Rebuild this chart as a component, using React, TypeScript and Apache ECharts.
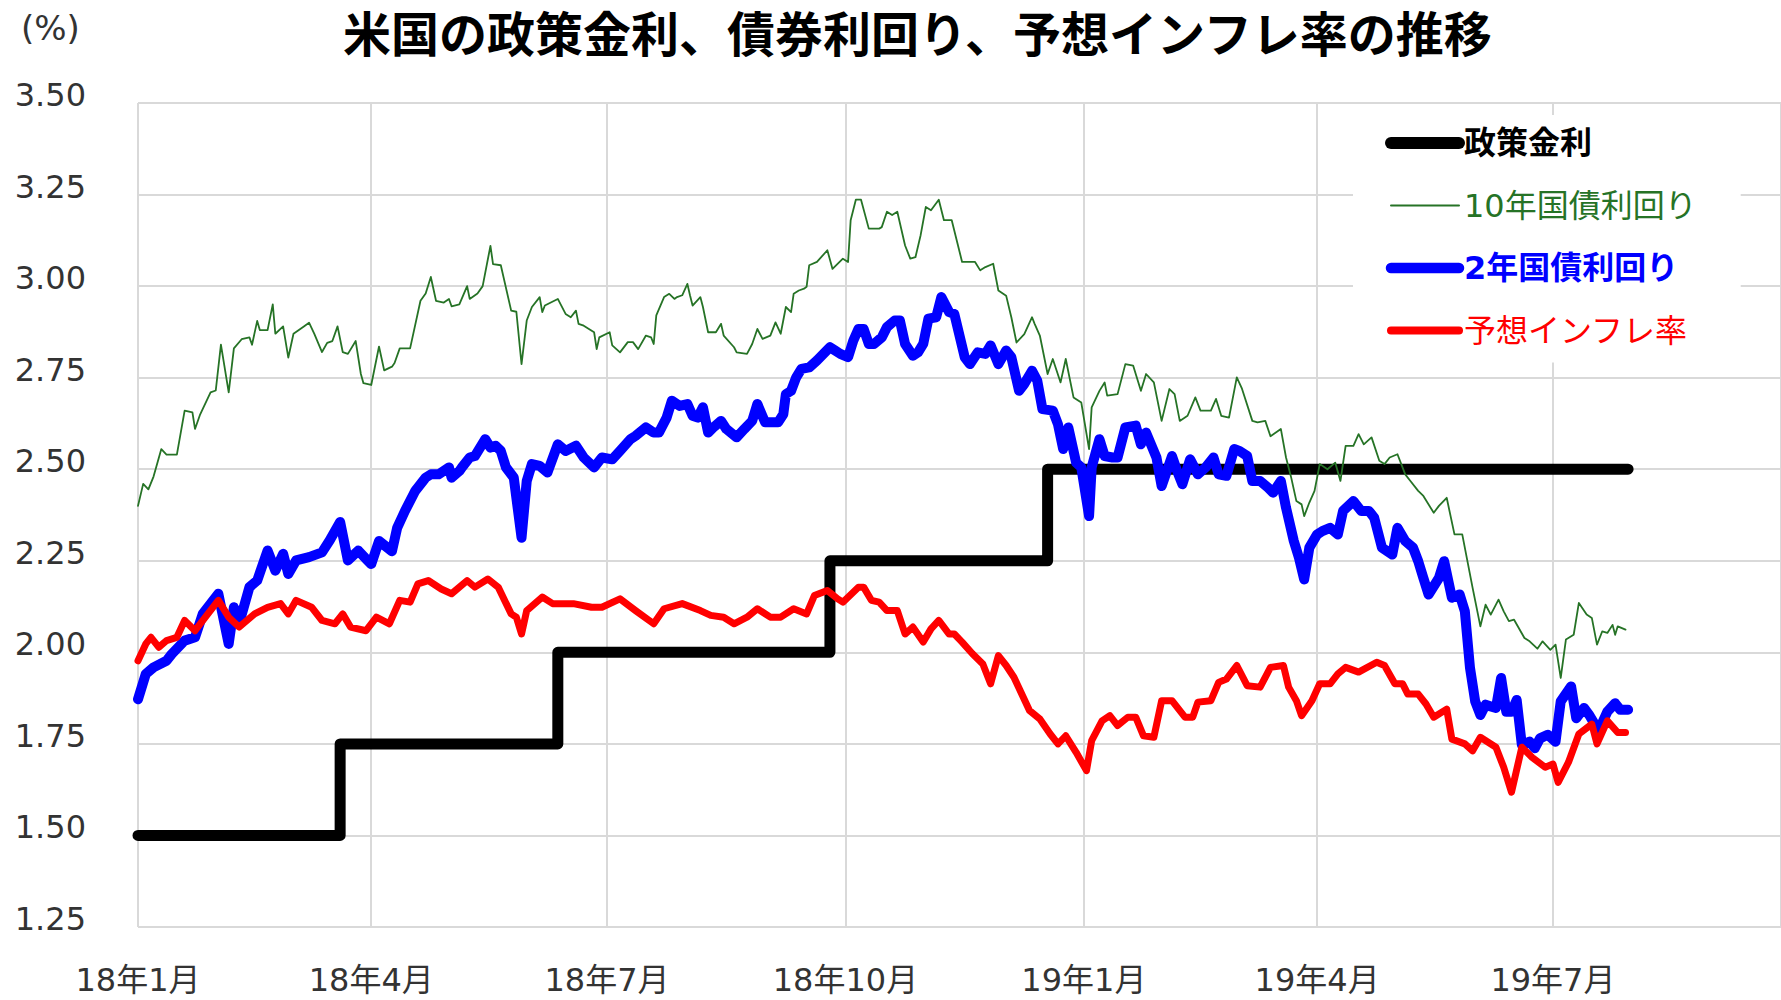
import React, { useEffect, useRef } from 'react';
import * as echarts from 'echarts';

const FONT = '"DejaVu Sans", "Noto Sans CJK JP", sans-serif';
const TITLE = '米国の政策金利、債券利回り、予想インフレ率の推移';
const UNIT_LABEL = '(%)';
const SERIES_NAMES = ['政策金利', '10年国債利回り', '2年国債利回り', '予想インフレ率'];
const COLORS = ['#000000', '#267326', '#0000ff', '#ff0000'];
const X_MIN = '2018-01-01';
const X_MAX = '2019-09-27';
const Y_MIN = 1.25;
const Y_MAX = 3.5;
const Y_STEP = 0.25;

const policyRate: [string, number][] = [
  ['2018-01-01', 1.5], ['2018-03-20', 1.5], ['2018-03-20', 1.75], ['2018-06-12', 1.75], ['2018-06-12', 2.0],
  ['2018-09-25', 2.0], ['2018-09-25', 2.25], ['2018-12-18', 2.25], ['2018-12-18', 2.5], ['2019-07-30', 2.5],
];

const tenYear: [string, number][] = [
  ['2018-01-01', 2.40], ['2018-01-03', 2.46], ['2018-01-05', 2.445], ['2018-01-07', 2.48], ['2018-01-10', 2.555],
  ['2018-01-12', 2.54], ['2018-01-16', 2.54], ['2018-01-19', 2.66], ['2018-01-22', 2.655], ['2018-01-23', 2.61],
  ['2018-01-25', 2.65], ['2018-01-29', 2.71], ['2018-01-31', 2.715], ['2018-02-02', 2.84], ['2018-02-05', 2.71],
  ['2018-02-07', 2.83], ['2018-02-10', 2.855], ['2018-02-13', 2.86], ['2018-02-14', 2.84], ['2018-02-16', 2.905],
  ['2018-02-17', 2.88], ['2018-02-20', 2.88], ['2018-02-22', 2.95], ['2018-02-23', 2.87], ['2018-02-26', 2.89],
  ['2018-02-28', 2.805], ['2018-03-02', 2.87], ['2018-03-06', 2.89], ['2018-03-08', 2.90], ['2018-03-10', 2.87],
  ['2018-03-13', 2.82], ['2018-03-15', 2.845], ['2018-03-17', 2.85], ['2018-03-19', 2.89], ['2018-03-21', 2.82],
  ['2018-03-23', 2.815], ['2018-03-26', 2.85], ['2018-03-28', 2.76], ['2018-03-29', 2.735], ['2018-04-01', 2.73],
  ['2018-04-04', 2.835], ['2018-04-06', 2.77], ['2018-04-09', 2.78], ['2018-04-10', 2.79], ['2018-04-12', 2.83],
  ['2018-04-16', 2.83], ['2018-04-20', 2.96], ['2018-04-22', 2.98], ['2018-04-24', 3.025], ['2018-04-26', 2.96],
  ['2018-04-29', 2.955], ['2018-05-01', 2.965], ['2018-05-02', 2.945], ['2018-05-05', 2.95], ['2018-05-08', 3.00],
  ['2018-05-09', 2.965], ['2018-05-12', 2.98], ['2018-05-14', 3.00], ['2018-05-17', 3.11], ['2018-05-18', 3.06],
  ['2018-05-21', 3.057], ['2018-05-25', 2.933], ['2018-05-27', 2.93], ['2018-05-29', 2.787], ['2018-05-31', 2.906],
  ['2018-06-02', 2.943], ['2018-06-05', 2.97], ['2018-06-06', 2.929], ['2018-06-07', 2.947], ['2018-06-12', 2.965],
  ['2018-06-15', 2.924], ['2018-06-17', 2.915], ['2018-06-19', 2.933], ['2018-06-20', 2.897], ['2018-06-22', 2.892],
  ['2018-06-26', 2.874], ['2018-06-27', 2.828], ['2018-06-28', 2.86], ['2018-07-02', 2.874], ['2018-07-03', 2.838],
  ['2018-07-06', 2.819], ['2018-07-09', 2.847], ['2018-07-11', 2.847], ['2018-07-13', 2.828], ['2018-07-16', 2.865],
  ['2018-07-18', 2.86], ['2018-07-19', 2.842], ['2018-07-20', 2.92], ['2018-07-23', 2.97], ['2018-07-25', 2.979],
  ['2018-07-27', 2.965], ['2018-07-28', 2.97], ['2018-07-30', 2.975], ['2018-08-01', 3.006], ['2018-08-02', 2.975],
  ['2018-08-03', 2.947], ['2018-08-06', 2.97], ['2018-08-07', 2.943], ['2018-08-09', 2.874], ['2018-08-12', 2.874],
  ['2018-08-14', 2.897], ['2018-08-15', 2.865], ['2018-08-19', 2.833], ['2018-08-20', 2.819], ['2018-08-24', 2.815],
  ['2018-08-26', 2.842], ['2018-08-28', 2.883], ['2018-08-30', 2.856], ['2018-09-02', 2.865], ['2018-09-04', 2.901],
  ['2018-09-06', 2.87], ['2018-09-08', 2.943], ['2018-09-10', 2.929], ['2018-09-11', 2.979], ['2018-09-13', 2.988],
  ['2018-09-15', 2.993], ['2018-09-16', 2.998], ['2018-09-17', 3.057], ['2018-09-20', 3.066], ['2018-09-24', 3.098],
  ['2018-09-26', 3.047], ['2018-09-30', 3.075], ['2018-10-02', 3.066], ['2018-10-03', 3.18], ['2018-10-05', 3.236],
  ['2018-10-07', 3.236], ['2018-10-10', 3.157], ['2018-10-14', 3.157], ['2018-10-15', 3.161], ['2018-10-17', 3.203],
  ['2018-10-19', 3.194], ['2018-10-21', 3.203], ['2018-10-24', 3.111], ['2018-10-26', 3.075], ['2018-10-28', 3.079],
  ['2018-10-30', 3.139], ['2018-11-01', 3.216], ['2018-11-03', 3.207], ['2018-11-06', 3.236], ['2018-11-08', 3.18],
  ['2018-11-11', 3.18], ['2018-11-15', 3.066], ['2018-11-20', 3.066], ['2018-11-22', 3.043], ['2018-11-24', 3.052],
  ['2018-11-27', 3.061], ['2018-11-29', 2.988], ['2018-12-02', 2.974], ['2018-12-04', 2.915], ['2018-12-06', 2.846],
  ['2018-12-09', 2.869], ['2018-12-12', 2.915], ['2018-12-13', 2.897], ['2018-12-15', 2.865], ['2018-12-18', 2.76],
  ['2018-12-20', 2.801], ['2018-12-23', 2.737], ['2018-12-25', 2.801], ['2018-12-28', 2.696], ['2018-12-31', 2.682],
  ['2019-01-03', 2.555], ['2019-01-04', 2.669], ['2019-01-07', 2.714], ['2019-01-09', 2.737], ['2019-01-10', 2.701],
  ['2019-01-14', 2.705], ['2019-01-17', 2.787], ['2019-01-20', 2.783], ['2019-01-23', 2.714], ['2019-01-25', 2.76],
  ['2019-01-28', 2.737], ['2019-01-31', 2.632], ['2019-02-03', 2.719], ['2019-02-05', 2.705], ['2019-02-07', 2.632],
  ['2019-02-10', 2.646], ['2019-02-13', 2.696], ['2019-02-15', 2.66], ['2019-02-19', 2.66], ['2019-02-21', 2.692],
  ['2019-02-23', 2.646], ['2019-02-26', 2.641], ['2019-03-01', 2.751], ['2019-03-03', 2.72], ['2019-03-07', 2.632],
  ['2019-03-09', 2.628], ['2019-03-12', 2.632], ['2019-03-14', 2.59], ['2019-03-18', 2.61], ['2019-03-20', 2.532],
  ['2019-03-22', 2.477], ['2019-03-24', 2.413], ['2019-03-26', 2.404], ['2019-03-27', 2.372], ['2019-03-29', 2.409],
  ['2019-03-31', 2.441], ['2019-04-02', 2.514], ['2019-04-05', 2.50], ['2019-04-08', 2.518], ['2019-04-10', 2.468],
  ['2019-04-12', 2.564], ['2019-04-15', 2.564], ['2019-04-17', 2.596], ['2019-04-19', 2.568], ['2019-04-22', 2.587],
  ['2019-04-25', 2.523], ['2019-04-27', 2.514], ['2019-04-29', 2.532], ['2019-05-02', 2.541], ['2019-05-05', 2.486],
  ['2019-05-07', 2.468], ['2019-05-10', 2.441], ['2019-05-12', 2.427], ['2019-05-16', 2.381], ['2019-05-18', 2.40],
  ['2019-05-21', 2.422], ['2019-05-24', 2.322], ['2019-05-27', 2.322], ['2019-05-31', 2.176], ['2019-06-03', 2.071],
  ['2019-06-05', 2.13], ['2019-06-07', 2.103], ['2019-06-10', 2.144], ['2019-06-12', 2.112], ['2019-06-14', 2.085],
  ['2019-06-16', 2.089], ['2019-06-20', 2.039], ['2019-06-22', 2.03], ['2019-06-25', 2.01], ['2019-06-27', 2.03],
  ['2019-06-30', 2.007], ['2019-07-02', 2.021], ['2019-07-04', 1.93], ['2019-07-06', 2.035], ['2019-07-09', 2.048],
  ['2019-07-11', 2.135], ['2019-07-14', 2.103], ['2019-07-16', 2.094], ['2019-07-18', 2.021], ['2019-07-20', 2.057],
  ['2019-07-22', 2.053], ['2019-07-24', 2.075], ['2019-07-25', 2.048], ['2019-07-26', 2.071], ['2019-07-29', 2.062],
];

const twoYear: [string, number][] = [
  ['2018-01-01', 1.872], ['2018-01-04', 1.941], ['2018-01-07', 1.959], ['2018-01-12', 1.977], ['2018-01-14', 1.995],
  ['2018-01-19', 2.032], ['2018-01-23', 2.041], ['2018-01-26', 2.105], ['2018-02-01', 2.16], ['2018-02-05', 2.023],
  ['2018-02-07', 2.123], ['2018-02-09', 2.078], ['2018-02-13', 2.178], ['2018-02-16', 2.196], ['2018-02-20', 2.278],
  ['2018-02-23', 2.223], ['2018-02-26', 2.269], ['2018-02-28', 2.214], ['2018-03-03', 2.251], ['2018-03-08', 2.26],
  ['2018-03-13', 2.273], ['2018-03-16', 2.306], ['2018-03-20', 2.356], ['2018-03-23', 2.251], ['2018-03-27', 2.278],
  ['2018-03-30', 2.255], ['2018-04-01', 2.241], ['2018-04-04', 2.304], ['2018-04-09', 2.276], ['2018-04-11', 2.34],
  ['2018-04-14', 2.386], ['2018-04-18', 2.441], ['2018-04-22', 2.477], ['2018-04-24', 2.486], ['2018-04-27', 2.486],
  ['2018-05-01', 2.505], ['2018-05-02', 2.477], ['2018-05-05', 2.495], ['2018-05-06', 2.505], ['2018-05-09', 2.532],
  ['2018-05-11', 2.536], ['2018-05-15', 2.582], ['2018-05-17', 2.559], ['2018-05-19', 2.564], ['2018-05-21', 2.55],
  ['2018-05-23', 2.505], ['2018-05-26', 2.477], ['2018-05-29', 2.313], ['2018-05-31', 2.468], ['2018-06-02', 2.514],
  ['2018-06-05', 2.509], ['2018-06-08', 2.491], ['2018-06-12', 2.568], ['2018-06-15', 2.55], ['2018-06-19', 2.564],
  ['2018-06-22', 2.532], ['2018-06-26', 2.505], ['2018-06-29', 2.532], ['2018-07-03', 2.527], ['2018-07-06', 2.55],
  ['2018-07-10', 2.582], ['2018-07-12', 2.591], ['2018-07-16', 2.614], ['2018-07-19', 2.60], ['2018-07-21', 2.60],
  ['2018-07-24', 2.641], ['2018-07-26', 2.687], ['2018-07-29', 2.673], ['2018-08-01', 2.678], ['2018-08-03', 2.646],
  ['2018-08-05', 2.641], ['2018-08-07', 2.669], ['2018-08-09', 2.60], ['2018-08-11', 2.614], ['2018-08-14', 2.632],
  ['2018-08-16', 2.61], ['2018-08-20', 2.587], ['2018-08-23', 2.61], ['2018-08-26', 2.632], ['2018-08-28', 2.678],
  ['2018-08-31', 2.628], ['2018-09-05', 2.628], ['2018-09-07', 2.65], ['2018-09-08', 2.705], ['2018-09-10', 2.714],
  ['2018-09-12', 2.751], ['2018-09-14', 2.774], ['2018-09-17', 2.778], ['2018-09-20', 2.797], ['2018-09-25', 2.833],
  ['2018-09-27', 2.824], ['2018-09-29', 2.815], ['2018-10-02', 2.806], ['2018-10-04', 2.851], ['2018-10-06', 2.883],
  ['2018-10-08', 2.883], ['2018-10-10', 2.842], ['2018-10-12', 2.842], ['2018-10-15', 2.86], ['2018-10-17', 2.888],
  ['2018-10-20', 2.906], ['2018-10-22', 2.906], ['2018-10-24', 2.842], ['2018-10-27', 2.81], ['2018-10-29', 2.819],
  ['2018-10-31', 2.842], ['2018-11-02', 2.911], ['2018-11-05', 2.915], ['2018-11-07', 2.97], ['2018-11-10', 2.929],
  ['2018-11-12', 2.924], ['2018-11-16', 2.806], ['2018-11-18', 2.787], ['2018-11-21', 2.819], ['2018-11-24', 2.815],
  ['2018-11-26', 2.838], ['2018-11-29', 2.787], ['2018-12-02', 2.824], ['2018-12-04', 2.806], ['2018-12-07', 2.714],
  ['2018-12-09', 2.733], ['2018-12-12', 2.769], ['2018-12-14', 2.742], ['2018-12-16', 2.664], ['2018-12-20', 2.66],
  ['2018-12-22', 2.623], ['2018-12-24', 2.555], ['2018-12-26', 2.614], ['2018-12-29', 2.518], ['2018-12-31', 2.505],
  ['2019-01-03', 2.372], ['2019-01-04', 2.505], ['2019-01-07', 2.582], ['2019-01-09', 2.536], ['2019-01-12', 2.532],
  ['2019-01-14', 2.532], ['2019-01-17', 2.614], ['2019-01-21', 2.619], ['2019-01-23', 2.568], ['2019-01-25', 2.60],
  ['2019-01-29', 2.532], ['2019-01-31', 2.454], ['2019-02-04', 2.536], ['2019-02-06', 2.495], ['2019-02-08', 2.459],
  ['2019-02-11', 2.527], ['2019-02-14', 2.486], ['2019-02-17', 2.505], ['2019-02-20', 2.532], ['2019-02-22', 2.486],
  ['2019-02-25', 2.482], ['2019-02-28', 2.555], ['2019-03-02', 2.55], ['2019-03-05', 2.536], ['2019-03-07', 2.468],
  ['2019-03-10', 2.468], ['2019-03-13', 2.45], ['2019-03-15', 2.436], ['2019-03-18', 2.468], ['2019-03-20', 2.395],
  ['2019-03-23', 2.304], ['2019-03-25', 2.258], ['2019-03-27', 2.199], ['2019-03-29', 2.286], ['2019-04-01', 2.322],
  ['2019-04-03', 2.331], ['2019-04-06', 2.34], ['2019-04-09', 2.322], ['2019-04-11', 2.386], ['2019-04-15', 2.413],
  ['2019-04-18', 2.386], ['2019-04-21', 2.386], ['2019-04-23', 2.368], ['2019-04-26', 2.286], ['2019-04-30', 2.267],
  ['2019-05-02', 2.34], ['2019-05-05', 2.304], ['2019-05-08', 2.286], ['2019-05-10', 2.249], ['2019-05-12', 2.203],
  ['2019-05-14', 2.158], ['2019-05-18', 2.203], ['2019-05-20', 2.249], ['2019-05-23', 2.149], ['2019-05-26', 2.158],
  ['2019-05-28', 2.112], ['2019-05-30', 1.957], ['2019-06-01', 1.866], ['2019-06-03', 1.829], ['2019-06-05', 1.857],
  ['2019-06-07', 1.852], ['2019-06-09', 1.848], ['2019-06-11', 1.93], ['2019-06-13', 1.838], ['2019-06-15', 1.838],
  ['2019-06-17', 1.87], ['2019-06-19', 1.747], ['2019-06-22', 1.756], ['2019-06-24', 1.738], ['2019-06-26', 1.765],
  ['2019-06-29', 1.775], ['2019-07-02', 1.756], ['2019-07-04', 1.866], ['2019-07-08', 1.907], ['2019-07-10', 1.82],
  ['2019-07-13', 1.848], ['2019-07-15', 1.829], ['2019-07-18', 1.793], ['2019-07-20', 1.807], ['2019-07-22', 1.838],
  ['2019-07-25', 1.861], ['2019-07-27', 1.843], ['2019-07-30', 1.843],
];

const inflationExp: [string, number][] = [
  ['2018-01-01', 1.977], ['2018-01-04', 2.023], ['2018-01-06', 2.041], ['2018-01-09', 2.014], ['2018-01-12', 2.032],
  ['2018-01-16', 2.041], ['2018-01-19', 2.087], ['2018-01-23', 2.059], ['2018-01-27', 2.096], ['2018-02-01', 2.142],
  ['2018-02-05', 2.096], ['2018-02-09', 2.069], ['2018-02-15', 2.105], ['2018-02-20', 2.123], ['2018-02-25', 2.133],
  ['2018-02-28', 2.105], ['2018-03-03', 2.142], ['2018-03-09', 2.123], ['2018-03-13', 2.087], ['2018-03-18', 2.078],
  ['2018-03-21', 2.105], ['2018-03-24', 2.069], ['2018-03-30', 2.059], ['2018-04-03', 2.096], ['2018-04-08', 2.078],
  ['2018-04-12', 2.142], ['2018-04-16', 2.137], ['2018-04-19', 2.187], ['2018-04-23', 2.196], ['2018-04-28', 2.173],
  ['2018-05-02', 2.16], ['2018-05-08', 2.196], ['2018-05-11', 2.178], ['2018-05-16', 2.20], ['2018-05-20', 2.178],
  ['2018-05-25', 2.105], ['2018-05-27', 2.096], ['2018-05-29', 2.05], ['2018-05-31', 2.114], ['2018-06-06', 2.151],
  ['2018-06-10', 2.133], ['2018-06-18', 2.133], ['2018-06-25', 2.123], ['2018-06-29', 2.123], ['2018-07-06', 2.146],
  ['2018-07-12', 2.114], ['2018-07-19', 2.078], ['2018-07-23', 2.119], ['2018-07-30', 2.133], ['2018-08-06', 2.114],
  ['2018-08-10', 2.101], ['2018-08-15', 2.096], ['2018-08-19', 2.078], ['2018-08-24', 2.096], ['2018-08-28', 2.119],
  ['2018-09-02', 2.096], ['2018-09-06', 2.096], ['2018-09-11', 2.119], ['2018-09-16', 2.105], ['2018-09-19', 2.155],
  ['2018-09-24', 2.169], ['2018-09-28', 2.146], ['2018-09-30', 2.137], ['2018-10-06', 2.178], ['2018-10-08', 2.178],
  ['2018-10-11', 2.142], ['2018-10-14', 2.137], ['2018-10-17', 2.114], ['2018-10-21', 2.114], ['2018-10-24', 2.05],
  ['2018-10-27', 2.069], ['2018-10-31', 2.028], ['2018-11-03', 2.064], ['2018-11-06', 2.087], ['2018-11-10', 2.05],
  ['2018-11-12', 2.05], ['2018-11-15', 2.028], ['2018-11-19', 1.996], ['2018-11-23', 1.968], ['2018-11-26', 1.914],
  ['2018-11-29', 1.991], ['2018-12-02', 1.964], ['2018-12-05', 1.932], ['2018-12-11', 1.841], ['2018-12-15', 1.818],
  ['2018-12-19', 1.777], ['2018-12-22', 1.75], ['2018-12-25', 1.772], ['2018-12-29', 1.727], ['2019-01-02', 1.677],
  ['2019-01-04', 1.759], ['2019-01-08', 1.813], ['2019-01-11', 1.827], ['2019-01-14', 1.80], ['2019-01-18', 1.823],
  ['2019-01-21', 1.823], ['2019-01-24', 1.772], ['2019-01-28', 1.768], ['2019-01-31', 1.868], ['2019-02-04', 1.868],
  ['2019-02-09', 1.823], ['2019-02-12', 1.823], ['2019-02-14', 1.864], ['2019-02-19', 1.868], ['2019-02-22', 1.918],
  ['2019-02-25', 1.927], ['2019-03-01', 1.964], ['2019-03-05', 1.909], ['2019-03-10', 1.905], ['2019-03-14', 1.959],
  ['2019-03-19', 1.964], ['2019-03-21', 1.905], ['2019-03-24', 1.868], ['2019-03-26', 1.827], ['2019-03-30', 1.868],
  ['2019-04-02', 1.914], ['2019-04-06', 1.914], ['2019-04-09', 1.941], ['2019-04-12', 1.959], ['2019-04-17', 1.946],
  ['2019-04-24', 1.973], ['2019-04-27', 1.964], ['2019-05-01', 1.914], ['2019-05-04', 1.914], ['2019-05-06', 1.886],
  ['2019-05-10', 1.886], ['2019-05-13', 1.859], ['2019-05-16', 1.823], ['2019-05-21', 1.845], ['2019-05-23', 1.763],
  ['2019-05-28', 1.75], ['2019-05-31', 1.731], ['2019-06-03', 1.768], ['2019-06-09', 1.741], ['2019-06-12', 1.686],
  ['2019-06-15', 1.618], ['2019-06-19', 1.741], ['2019-06-23', 1.713], ['2019-06-28', 1.686], ['2019-07-01', 1.695],
  ['2019-07-03', 1.645], ['2019-07-07', 1.70], ['2019-07-11', 1.777], ['2019-07-16', 1.804], ['2019-07-18', 1.75],
  ['2019-07-22', 1.813], ['2019-07-26', 1.781], ['2019-07-29', 1.781],
];

const SERIES_DATA = [policyRate, tenYear, twoYear, inflationExp];
const LINE_WIDTHS = [11, 1.8, 10, 7];
const LEGEND_LINE_WIDTHS = [12, 2, 10.5, 8];
const LEGEND_BOLD = [true, false, true, false];

export default function App() {
  const ref = useRef<HTMLDivElement>(null);
  useEffect(() => {
    document.body.style.margin = '0';
    const chart = echarts.init(ref.current!, null, { renderer: 'svg' });
    chart.setOption({
      animation: false,
      backgroundColor: '#ffffff',
      title: {
        text: TITLE,
        left: 343,
        top: 7,
        padding: 0,
        textStyle: {
          fontSize: 48,
          lineHeight: 48,
          fontWeight: 'bold',
          color: '#000',
          fontFamily: '"Noto Sans CJK JP", sans-serif',
        },
      },
      graphic: [
        {
          type: 'text',
          left: 21,
          top: 11,
          style: { text: UNIT_LABEL, fontSize: 34, fontFamily: FONT, fill: '#333' },
        },
      ],
      legend: {
        orient: 'vertical',
        left: 1353,
        top: 115,
        padding: [12, 44, 16, 32],
        itemGap: 30.5,
        itemWidth: 68,
        itemHeight: 14,
        backgroundColor: '#ffffff',
        selectedMode: false,
        textStyle: { fontSize: 32, lineHeight: 32, fontFamily: FONT },
        data: SERIES_NAMES.map((n, i) => ({
          name: n,
          itemStyle: { opacity: 0 },
          lineStyle: { width: LEGEND_LINE_WIDTHS[i], color: COLORS[i], cap: 'round', opacity: 1 },
          textStyle: { color: COLORS[i], fontWeight: LEGEND_BOLD[i] ? 'bold' : 'normal' },
        })),
      },
      grid: { left: 138, right: 0, top: 103, bottom: 73, containLabel: false },
      xAxis: {
        type: 'time',
        min: X_MIN,
        max: X_MAX,
        splitNumber: 7,
        axisLine: { show: false },
        axisTick: { show: false },
        splitLine: { show: true, lineStyle: { color: '#d9d9d9', width: 2 } },
        axisLabel: {
          margin: 37,
          fontSize: 32,
          fontFamily: FONT,
          color: '#333',
          showMaxLabel: false,
          formatter: (v: number) => {
            const d = new Date(v);
            return `${String(d.getFullYear()).slice(2)}年${d.getMonth() + 1}月`;
          },
        },
      },
      yAxis: {
        type: 'value',
        min: Y_MIN,
        max: Y_MAX,
        interval: Y_STEP,
        axisLine: { show: false },
        axisTick: { show: false },
        splitLine: { show: true, lineStyle: { color: '#d9d9d9', width: 2 } },
        axisLabel: {
          margin: 52,
          fontSize: 32,
          fontFamily: FONT,
          color: '#333',
          verticalAlign: 'bottom',
          lineHeight: 16,
          formatter: (v: number) => v.toFixed(2),
        },
      },
      series: SERIES_NAMES.map((n, i) => ({
        name: n,
        type: 'line',
        data: SERIES_DATA[i],
        showSymbol: false,
        symbol: 'none',
        z: 2,
        lineStyle: { color: COLORS[i], width: LINE_WIDTHS[i], cap: 'round', join: 'round' },
        itemStyle: { color: COLORS[i] },
        emphasis: { disabled: true },
      })),
    });
    return () => chart.dispose();
  }, []);
  return <div ref={ref} style={{ width: 1781, height: 1000, background: '#fff' }} />;
}
